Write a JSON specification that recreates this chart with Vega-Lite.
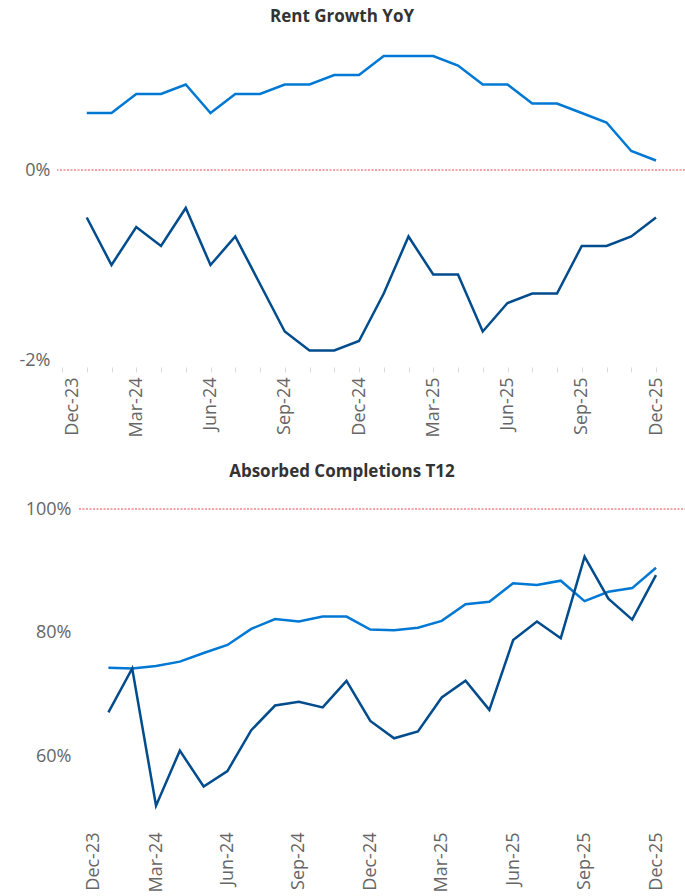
{
  "$schema": "https://vega.github.io/schema/vega-lite/v6.json",
  "padding": {"left": 19, "right": 0, "top": 8, "bottom": 0},
  "background": "white",
  "spacing": 26,
  "resolve": {"scale": {"x": "independent", "y": "independent", "color": "independent"}},
  "config": {
    "view": {"stroke": null},
    "font": "Open Sans",
    "axis": {"labelFont": "Open Sans", "labelColor": "#666666", "labelFontSize": 18, "title": null, "grid": false, "domain": false}
  },
  "datasets": {
    "rent": [
      {"month": "Jan-24", "series": "A", "value": 0.006},
      {"month": "Feb-24", "series": "A", "value": 0.006},
      {"month": "Mar-24", "series": "A", "value": 0.008},
      {"month": "Apr-24", "series": "A", "value": 0.008},
      {"month": "May-24", "series": "A", "value": 0.009},
      {"month": "Jun-24", "series": "A", "value": 0.006},
      {"month": "Jul-24", "series": "A", "value": 0.008},
      {"month": "Aug-24", "series": "A", "value": 0.008},
      {"month": "Sep-24", "series": "A", "value": 0.009},
      {"month": "Oct-24", "series": "A", "value": 0.009},
      {"month": "Nov-24", "series": "A", "value": 0.010},
      {"month": "Dec-24", "series": "A", "value": 0.010},
      {"month": "Jan-25", "series": "A", "value": 0.012},
      {"month": "Feb-25", "series": "A", "value": 0.012},
      {"month": "Mar-25", "series": "A", "value": 0.012},
      {"month": "Apr-25", "series": "A", "value": 0.011},
      {"month": "May-25", "series": "A", "value": 0.009},
      {"month": "Jun-25", "series": "A", "value": 0.009},
      {"month": "Jul-25", "series": "A", "value": 0.007},
      {"month": "Aug-25", "series": "A", "value": 0.007},
      {"month": "Sep-25", "series": "A", "value": 0.006},
      {"month": "Oct-25", "series": "A", "value": 0.005},
      {"month": "Nov-25", "series": "A", "value": 0.002},
      {"month": "Dec-25", "series": "A", "value": 0.001},
      {"month": "Jan-24", "series": "B", "value": -0.005},
      {"month": "Feb-24", "series": "B", "value": -0.010},
      {"month": "Mar-24", "series": "B", "value": -0.006},
      {"month": "Apr-24", "series": "B", "value": -0.008},
      {"month": "May-24", "series": "B", "value": -0.004},
      {"month": "Jun-24", "series": "B", "value": -0.010},
      {"month": "Jul-24", "series": "B", "value": -0.007},
      {"month": "Aug-24", "series": "B", "value": -0.012},
      {"month": "Sep-24", "series": "B", "value": -0.017},
      {"month": "Oct-24", "series": "B", "value": -0.019},
      {"month": "Nov-24", "series": "B", "value": -0.019},
      {"month": "Dec-24", "series": "B", "value": -0.018},
      {"month": "Jan-25", "series": "B", "value": -0.013},
      {"month": "Feb-25", "series": "B", "value": -0.007},
      {"month": "Mar-25", "series": "B", "value": -0.011},
      {"month": "Apr-25", "series": "B", "value": -0.011},
      {"month": "May-25", "series": "B", "value": -0.017},
      {"month": "Jun-25", "series": "B", "value": -0.014},
      {"month": "Jul-25", "series": "B", "value": -0.013},
      {"month": "Aug-25", "series": "B", "value": -0.013},
      {"month": "Sep-25", "series": "B", "value": -0.008},
      {"month": "Oct-25", "series": "B", "value": -0.008},
      {"month": "Nov-25", "series": "B", "value": -0.007},
      {"month": "Dec-25", "series": "B", "value": -0.005}
    ],
    "absorbed": [
      {"month": "Jan-24", "series": "A", "value": 0.743},
      {"month": "Feb-24", "series": "A", "value": 0.742},
      {"month": "Mar-24", "series": "A", "value": 0.746},
      {"month": "Apr-24", "series": "A", "value": 0.753},
      {"month": "May-24", "series": "A", "value": 0.767},
      {"month": "Jun-24", "series": "A", "value": 0.780},
      {"month": "Jul-24", "series": "A", "value": 0.806},
      {"month": "Aug-24", "series": "A", "value": 0.822},
      {"month": "Sep-24", "series": "A", "value": 0.818},
      {"month": "Oct-24", "series": "A", "value": 0.826},
      {"month": "Nov-24", "series": "A", "value": 0.826},
      {"month": "Dec-24", "series": "A", "value": 0.805},
      {"month": "Jan-25", "series": "A", "value": 0.804},
      {"month": "Feb-25", "series": "A", "value": 0.808},
      {"month": "Mar-25", "series": "A", "value": 0.819},
      {"month": "Apr-25", "series": "A", "value": 0.846},
      {"month": "May-25", "series": "A", "value": 0.850},
      {"month": "Jun-25", "series": "A", "value": 0.880},
      {"month": "Jul-25", "series": "A", "value": 0.877},
      {"month": "Aug-25", "series": "A", "value": 0.884},
      {"month": "Sep-25", "series": "A", "value": 0.851},
      {"month": "Oct-25", "series": "A", "value": 0.866},
      {"month": "Nov-25", "series": "A", "value": 0.872},
      {"month": "Dec-25", "series": "A", "value": 0.905},
      {"month": "Jan-24", "series": "B", "value": 0.671},
      {"month": "Feb-24", "series": "B", "value": 0.742},
      {"month": "Mar-24", "series": "B", "value": 0.520},
      {"month": "Apr-24", "series": "B", "value": 0.609},
      {"month": "May-24", "series": "B", "value": 0.551},
      {"month": "Jun-24", "series": "B", "value": 0.576},
      {"month": "Jul-24", "series": "B", "value": 0.642},
      {"month": "Aug-24", "series": "B", "value": 0.682},
      {"month": "Sep-24", "series": "B", "value": 0.688},
      {"month": "Oct-24", "series": "B", "value": 0.679},
      {"month": "Nov-24", "series": "B", "value": 0.722},
      {"month": "Dec-24", "series": "B", "value": 0.657},
      {"month": "Jan-25", "series": "B", "value": 0.629},
      {"month": "Feb-25", "series": "B", "value": 0.640},
      {"month": "Mar-25", "series": "B", "value": 0.695},
      {"month": "Apr-25", "series": "B", "value": 0.722},
      {"month": "May-25", "series": "B", "value": 0.675},
      {"month": "Jun-25", "series": "B", "value": 0.788},
      {"month": "Jul-25", "series": "B", "value": 0.818},
      {"month": "Aug-25", "series": "B", "value": 0.791},
      {"month": "Sep-25", "series": "B", "value": 0.923},
      {"month": "Oct-25", "series": "B", "value": 0.855},
      {"month": "Nov-25", "series": "B", "value": 0.821},
      {"month": "Dec-25", "series": "B", "value": 0.893}
    ]
  },
  "vconcat": [
    {
      "title": {"text": "Rent Growth YoY", "fontSize": 17, "fontWeight": "bold", "color": "#333333", "font": "Open Sans", "dx": -29, "offset": 11},
      "width": 628,
      "height": 323,
      "encoding": {
        "x": {
          "field": "month", "type": "ordinal", "sort": null,
          "scale": {"type": "point", "padding": 0, "domain": ["Dec-23","Jan-24","Feb-24","Mar-24","Apr-24","May-24","Jun-24","Jul-24","Aug-24","Sep-24","Oct-24","Nov-24","Dec-24","Jan-25","Feb-25","Mar-25","Apr-25","May-25","Jun-25","Jul-25","Aug-25","Sep-25","Oct-25","Nov-25","Dec-25"], "range": [5, 599]},
          "axis": {
            "labelAngle": -90, "labelOverlap": false,
            "labelExpr": "indexof(['Dec','Mar','Jun','Sep'], slice(datum.value, 0, 3)) >= 0 ? datum.value : ''",
            "ticks": true, "tickColor": "#d9d9d9", "tickSize": 5, "offset": 7, "labelPadding": 5,
            "labelOffset": {"condition": {"test": "datum.value == 'Dec-23'", "value": 10}, "value": 0}
          }
        }
      },
      "layer": [
        {
          "data": {"values": [{"ref": 0}]},
          "mark": {"type": "rule", "color": "#e8474c", "strokeDash": [2, 1.5], "strokeWidth": 1},
          "encoding": {"x": null, "y": {"field": "ref", "type": "quantitative"}}
        },
        {
          "data": {"name": "rent"},
          "mark": {"type": "line", "strokeWidth": 2.5},
          "encoding": {
            "y": {
              "field": "value", "type": "quantitative",
              "scale": {"domain": [-0.02, 0.014], "nice": false, "zero": false},
              "axis": {"values": [-0.02, 0], "labelExpr": "(datum.value < 0 ? '-' : '') + format(abs(datum.value), '.0%')", "ticks": false, "labelPadding": 7, "minExtent": 33, "maxExtent": 33}
            },
            "color": {"field": "series", "type": "nominal", "scale": {"domain": ["A", "B"], "range": ["#0078D4", "#004C8C"]}, "legend": null}
          }
        }
      ]
    },
    {
      "title": {"text": "Absorbed Completions T12", "fontSize": 17, "fontWeight": "bold", "color": "#333333", "font": "Open Sans", "dx": -29, "offset": 19},
      "width": 628,
      "height": 309,
      "encoding": {
        "x": {
          "field": "month", "type": "ordinal", "sort": null,
          "scale": {"type": "point", "padding": 0, "domain": ["Dec-23","Jan-24","Feb-24","Mar-24","Apr-24","May-24","Jun-24","Jul-24","Aug-24","Sep-24","Oct-24","Nov-24","Dec-24","Jan-25","Feb-25","Mar-25","Apr-25","May-25","Jun-25","Jul-25","Aug-25","Sep-25","Oct-25","Nov-25","Dec-25"], "range": [27.6, 599]},
          "axis": {
            "labelAngle": -90, "labelOverlap": false,
            "labelExpr": "indexof(['Dec','Mar','Jun','Sep'], slice(datum.value, 0, 3)) >= 0 ? datum.value : ''",
            "ticks": false, "labelPadding": 14,
            "labelOffset": {"condition": {"test": "datum.value == 'Dec-23'", "value": 9}, "value": 0}
          }
        }
      },
      "layer": [
        {
          "data": {"values": [{"ref": 1, "from": "Dec-23", "to": "Dec-25"}]},
          "mark": {"type": "rule", "color": "#e8474c", "strokeDash": [2, 1.5], "strokeWidth": 1, "xOffset": -5.6, "x2Offset": 29},
          "encoding": {
            "x": {"field": "from", "type": "ordinal"},
            "x2": {"field": "to"},
            "y": {"field": "ref", "type": "quantitative"}
          }
        },
        {
          "data": {"name": "absorbed"},
          "mark": {"type": "line", "strokeWidth": 2.5},
          "encoding": {
            "y": {
              "field": "value", "type": "quantitative",
              "scale": {"domain": [0.5, 1.0], "nice": false, "zero": false},
              "axis": {"values": [0.6, 0.8, 1.0], "format": ".0%", "ticks": false, "labelPadding": 8, "offset": -22, "minExtent": 33, "maxExtent": 33}
            },
            "color": {"field": "series", "type": "nominal", "scale": {"domain": ["A", "B"], "range": ["#0078D4", "#004C8C"]}, "legend": null}
          }
        }
      ]
    }
  ]
}
